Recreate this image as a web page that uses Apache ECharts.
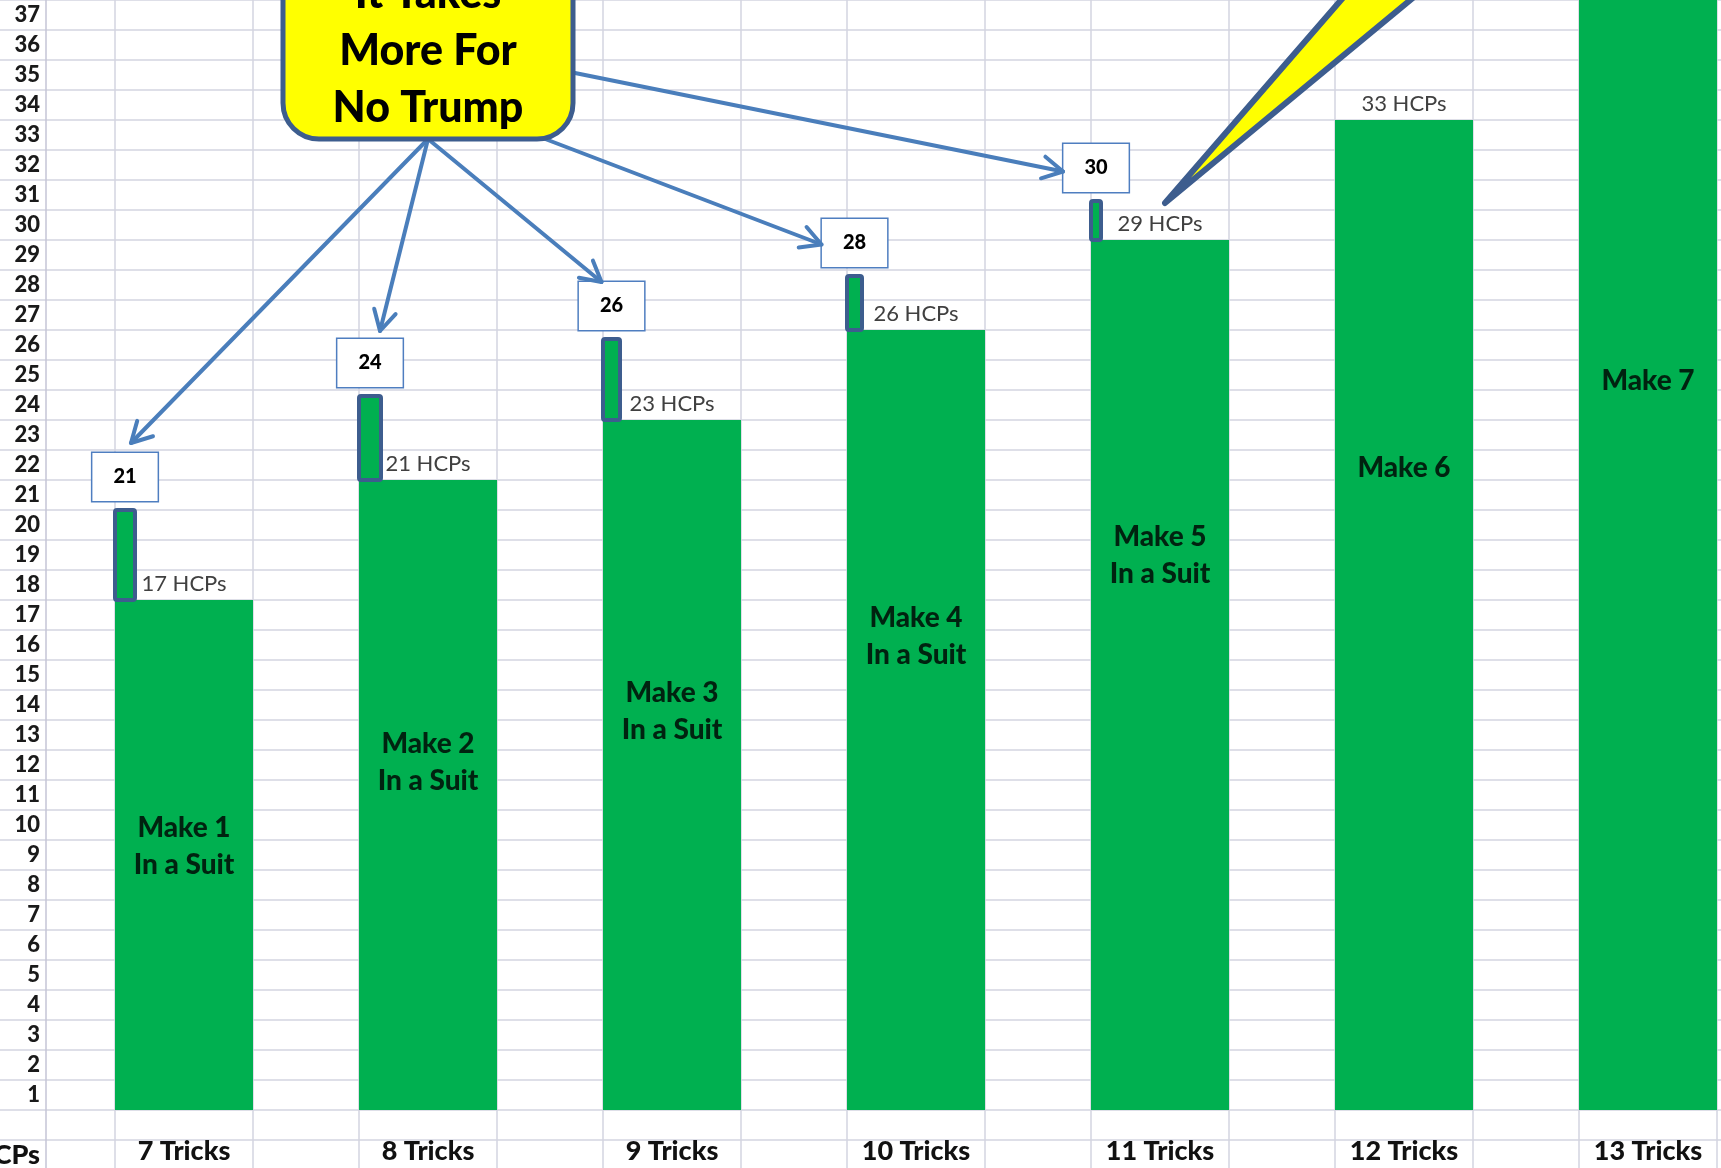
<!DOCTYPE html>
<html><head><meta charset="utf-8">
<script src="https://cdn.jsdelivr.net/npm/echarts@6/dist/echarts.min.js"></script>
<style>html,body{margin:0;padding:0;background:#fff;overflow:hidden}#c{width:1721px;height:1168px;}</style>
</head><body><div id="c"></div>
<script>
// ---- data ----
const categories = ['7 Tricks','8 Tricks','9 Tricks','10 Tricks','11 Tricks','12 Tricks','13 Tricks'];
const suitHCPs = [17, 21, 23, 26, 29, 33, 37];
const ntNeeded = [21, 24, 26, 28, 30];
const ntBarTop = [20, 23.8, 25.7, 27.8, 30.3];
const makeLabels = ['Make 1\nIn a Suit','Make 2\nIn a Suit','Make 3\nIn a Suit','Make 4\nIn a Suit','Make 5\nIn a Suit','Make 6','Make 7'];
const makeLabelAt = [8.8, 11.6, 13.3, 15.8, 18.5, 21.4, 24.3];
const rowNumbers = [1,2,3,4,5,6,7,8,9,10,11,12,13,14,15,16,17,18,19,20,21,22,23,24,25,26,27,28,29,30,31,32,33,34,35,36,37];
const calloutText = 'It Takes\nMore For\nNo Trump';

// ---- styles ----
const GREEN = '#00B050';
const BAR_W = 138;
const NT_W = [20, 22, 17, 15, 10];
const GRIDC = '#D3D4E0';
const ARROWC = '#4A7EBB';
const DARKB = '#3D5D8E';
const FONT = 'Lato';
const HEAVY = 900;

const chart = echarts.init(document.getElementById('c'), null, {renderer: 'canvas'});

const option = {
  animation: false,
  backgroundColor: '#fff',
  textStyle: {fontFamily: FONT},
  grid: [
    {left: 62, top: 0, width: 1708, height: 1110, outerBoundsMode: 'none', containLabel: false},
    {left: 0, top: 0, right: 0, height: 1170, outerBoundsMode: 'none', containLabel: false}
  ],
  xAxis: [
    {type: 'category', gridIndex: 0, data: categories,
     axisLine: {show: false}, axisTick: {show: false}, splitLine: {show: false},
     axisLabel: {interval: 0, fontSize: 27, fontWeight: HEAVY, color: '#111', margin: 28, fontFamily: FONT}},
    {type: 'value', gridIndex: 1, show: false, min: 0, max: 1}
  ],
  yAxis: [
    {type: 'value', gridIndex: 0, min: 0, max: 37, show: false},
    {type: 'value', gridIndex: 1, min: -2, max: 37, interval: 1, offset: -46,
     axisLine: {show: true, lineStyle: {color: '#C4C5D6', width: 1.5}},
     axisTick: {show: false},
     splitLine: {show: true, lineStyle: {color: GRIDC, width: 1.5}},
     axisLabel: {
       margin: 6, fontSize: 22, fontWeight: HEAVY, color: '#1a1a1a', fontFamily: FONT,
       verticalAlign: 'bottom', lineHeight: 30,
       formatter: function (v) {
         if (v === -2) return '{h|HCPs}';
         if (v >= 0 && v < rowNumbers.length) return String(rowNumbers[v]);
         return '';
       },
       rich: {h: {fontSize: 27, fontWeight: HEAVY, color: '#111', lineHeight: 30, fontFamily: FONT}}
     }}
  ],
  series: [
    // column (sheet) lines at bar edges
    {type: 'custom', xAxisIndex: 0, yAxisIndex: 0, z: 1, silent: true, clip: false,
     data: categories.map((c, i) => [i, 0]),
     renderItem: function (params, api) {
       const x = api.coord([api.value(0), 0])[0];
       const H = api.getHeight();
       return {type: 'group', children: [
         {type: 'line', shape: {x1: x - BAR_W / 2, y1: 0, x2: x - BAR_W / 2, y2: H}, style: {stroke: GRIDC, lineWidth: 1.5}},
         {type: 'line', shape: {x1: x + BAR_W / 2, y1: 0, x2: x + BAR_W / 2, y2: H}, style: {stroke: GRIDC, lineWidth: 1.5}}
       ]};
     }},
    // main bars
    {type: 'bar', xAxisIndex: 0, yAxisIndex: 0, z: 2, barWidth: BAR_W,
     data: suitHCPs.map((v, i) => i === suitHCPs.length - 1 ? {value: v, label: {show: false}} : v),
     itemStyle: {color: GREEN},
     label: {show: true, position: 'top', distance: 5, formatter: '{c} HCPs', fontSize: 22, color: '#404040', fontFamily: FONT}},
    // NT extra bars
    {type: 'custom', xAxisIndex: 0, yAxisIndex: 0, z: 3, clip: false,
     data: ntNeeded.map((n, i) => [i, suitHCPs[i], ntBarTop[i], n]),
     renderItem: function (params, api) {
       const i = params.dataIndex;
       const top = api.coord([api.value(0), api.value(2)]);
       const bot = api.coord([api.value(0), api.value(1)]);
       const left = top[0] - BAR_W / 2;
       return {
         type: 'rect',
         shape: {x: left, y: top[1], width: NT_W[i], height: bot[1] - top[1], r: 2},
         style: {fill: GREEN, stroke: DARKB, lineWidth: 4},
         textContent: {style: {
           text: String(api.value(3)), fontSize: 20, fontWeight: HEAVY, fontFamily: FONT, fill: '#000',
           backgroundColor: '#fff', borderColor: '#4F7EC0', borderWidth: 1.5,
           padding: [14, 21, 14, 21], lineHeight: 20, align: 'center'
         }},
         textConfig: {position: 'top', distance: 7}
       };
     }},
    // "Make" labels
    {type: 'scatter', xAxisIndex: 0, yAxisIndex: 0, z: 4, silent: true, symbolSize: 1,
     itemStyle: {color: 'rgba(0,0,0,0)'},
     data: makeLabelAt.map((v, i) => [i, v]),
     label: {show: true, position: 'inside', formatter: p => makeLabels[p.dataIndex],
             fontSize: 28, fontWeight: HEAVY, color: '#000', lineHeight: 37, fontFamily: FONT}}
  ]
};
chart.setOption(option);

// ---- annotations (callout + arrows) ----
const boxes = ntNeeded.map((n, i) => {
  const p = chart.convertToPixel({gridIndex: 0}, [i, ntBarTop[i]]);
  const cx = p[0] - BAR_W / 2 + NT_W[i] / 2;
  const bottom = p[1] - 7;
  const top = bottom - 49;
  return {cx: cx, top: top, left: cx - 33, mid: (top + bottom) / 2};
});

function arrow(x1, y1, x2, y2) {
  const a = Math.atan2(y2 - y1, x2 - x1), L = 23, s = 0.5;
  const p1 = [x2 - L * Math.cos(a - s), y2 - L * Math.sin(a - s)];
  const p2 = [x2 - L * Math.cos(a + s), y2 - L * Math.sin(a + s)];
  return [
    {type: 'line', z: 60, shape: {x1: x1, y1: y1, x2: x2, y2: y2}, style: {stroke: ARROWC, lineWidth: 4, lineCap: 'round'}},
    {type: 'polyline', z: 60, shape: {points: [p1, [x2, y2], p2]}, style: {stroke: ARROWC, lineWidth: 4, fill: null, lineCap: 'round', lineJoin: 'round'}}
  ];
}

const cBox = {x: 283, y: -80, w: 290, h: 219};
const cBottom = [cBox.x + cBox.w / 2, cBox.y + cBox.h];
const g = [];
g.push(...arrow(cBottom[0], cBottom[1], boxes[0].cx + 6, boxes[0].top - 11));
g.push(...arrow(cBottom[0], cBottom[1], boxes[1].cx + 10, boxes[1].top - 9));
g.push(...arrow(cBottom[0], cBottom[1], boxes[2].cx - 10, boxes[2].top - 1));
g.push(...arrow(540, 137, boxes[3].left, boxes[3].mid));
g.push(...arrow(575, 73, boxes[4].left, boxes[4].mid + 2));

g.push({type: 'rect', z: 70, shape: {x: cBox.x, y: cBox.y, width: cBox.w, height: cBox.h, r: 36},
        style: {fill: '#FFFF00', stroke: DARKB, lineWidth: 5}});
g.push({type: 'text', z: 71, x: cBox.x + cBox.w / 2, y: 51,
        style: {text: calloutText, fontSize: 43, fontWeight: HEAVY, fontFamily: FONT, fill: '#000',
                align: 'center', verticalAlign: 'middle', lineHeight: 57}});
// pointer of an off-picture callout
g.push({type: 'polygon', z: 70, shape: {points: [[1165, 203], [1348, -8], [1420, -8]]},
        style: {fill: '#FFFF00', stroke: DARKB, lineWidth: 6, lineJoin: 'round'}});

chart.setOption({graphic: {elements: g}});
</script>
</body></html>
